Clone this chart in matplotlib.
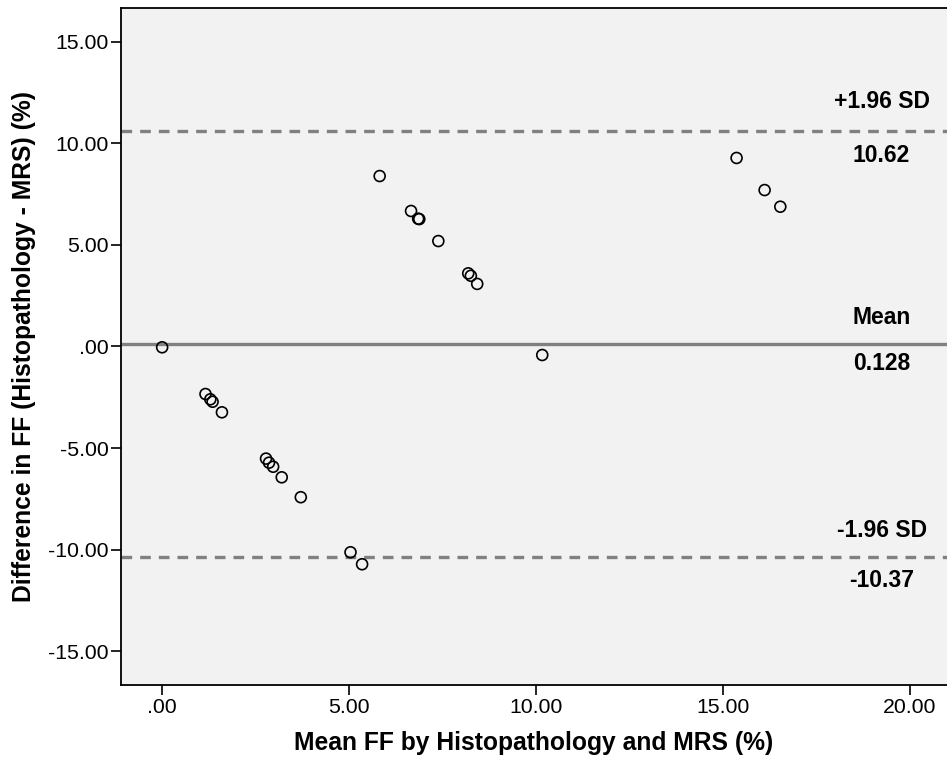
import numpy as np
import matplotlib
matplotlib.use("Agg")
import matplotlib.pyplot as plt

plt.rcParams['font.family'] = ['Liberation Sans', 'DejaVu Sans']

# Bland-Altman data: mean FF vs difference (Histopathology - MRS)
mean_ff = [0.00, 1.16, 1.29, 1.35, 1.60, 2.78, 2.86, 2.97, 3.20, 3.71,
           5.04, 5.35, 5.82, 6.66, 6.85, 6.88, 7.39, 8.19, 8.26, 8.43,
           10.17, 15.37, 16.12, 16.54]
diff_ff = [-0.04, -2.34, -2.60, -2.72, -3.24, -5.52, -5.72, -5.92, -6.44, -7.42,
           -10.13, -10.72, 8.39, 6.67, 6.29, 6.27, 5.19, 3.60, 3.48, 3.08,
           -0.42, 9.28, 7.70, 6.88]

mean_diff = 0.128
upper_loa = 10.62
lower_loa = -10.37

x_ticks = [0, 5, 10, 15, 20]
x_tick_labels = [".00", "5.00", "10.00", "15.00", "20.00"]
y_ticks = [-15, -10, -5, 0, 5, 10, 15]
y_tick_labels = ["-15.00", "-10.00", "-5.00", ".00", "5.00", "10.00", "15.00"]

fig = plt.figure(figsize=(9.47, 7.63), dpi=100)
ax = fig.add_axes([0.1278, 0.1018, 0.8722, 0.8882])
ax.set_facecolor('#f2f2f2')

ax.axhline(mean_diff, color='#808080', lw=2.4, zorder=1)
ax.axhline(upper_loa, color='#808080', lw=2.4, dashes=(3.2, 2.4), zorder=1)
ax.axhline(lower_loa, color='#808080', lw=2.4, dashes=(3.2, 2.4), zorder=1)

ax.scatter(mean_ff, diff_ff, s=62, facecolors='none', edgecolors='black',
           linewidths=1.2, zorder=3)

ax.set_xlim(-1.1, 21.0)
ax.set_ylim(-16.68, 16.68)
ax.set_xticks(x_ticks)
ax.set_xticklabels(x_tick_labels)
ax.set_yticks(y_ticks)
ax.set_yticklabels(y_tick_labels)
ax.tick_params(direction='out', length=7, width=1.2, labelsize=15.3, pad=2)

for s in ['left', 'bottom', 'top']:
    ax.spines[s].set_linewidth(1.3)
ax.spines['right'].set_visible(False)

# labels for the reference lines
lx = 19.25
lab_kw = dict(ha='center', va='center', fontsize=16.5, fontweight='bold')
ax.annotate("+1.96 SD", (lx, upper_loa), xytext=(0, 21), textcoords='offset points', **lab_kw)
ax.annotate("10.62", (lx, upper_loa), xytext=(0, -18), textcoords='offset points', **lab_kw)
ax.annotate("Mean", (lx, mean_diff), xytext=(0, 19), textcoords='offset points', **lab_kw)
ax.annotate("0.128", (lx, mean_diff), xytext=(0, -14), textcoords='offset points', **lab_kw)
ax.annotate("-1.96 SD", (lx, lower_loa), xytext=(0, 19), textcoords='offset points', **lab_kw)
ax.annotate("-10.37", (lx, lower_loa), xytext=(0, -17), textcoords='offset points', **lab_kw)

ax.set_xlabel("Mean FF by Histopathology and MRS (%)", fontsize=17.7, fontweight='bold', labelpad=10)
ax.set_ylabel("Difference in FF (Histopathology - MRS) (%)", fontsize=17.7, fontweight='bold', labelpad=9)

fig.savefig("out.png", dpi=100)
